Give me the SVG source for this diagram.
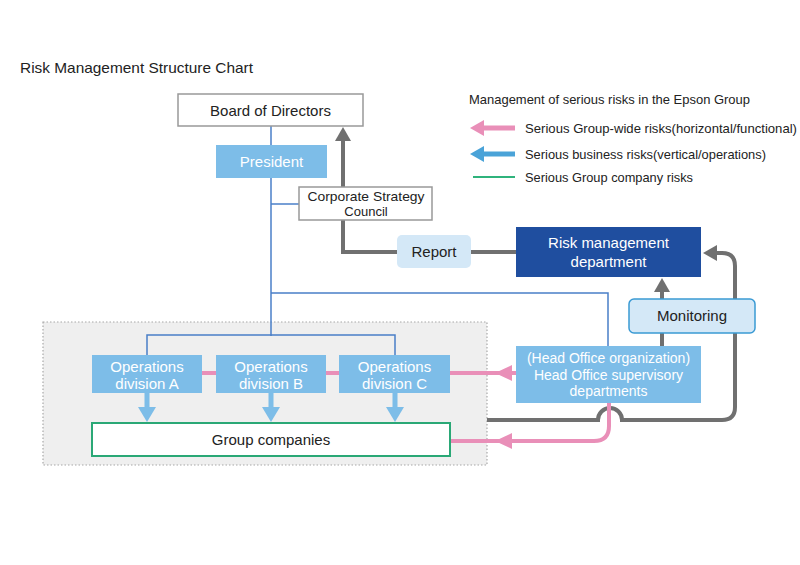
<svg xmlns="http://www.w3.org/2000/svg" width="800" height="565" viewBox="0 0 800 565">
<style>
text{font-family:"Liberation Sans",Arial,sans-serif;}
.dk{fill:#222;}
.wh{fill:#fff;}
.lb{fill:#7dbde8;}
.blue{stroke:#4a7fc8;stroke-width:1.5;fill:none;}
.gray{stroke:#707070;stroke-width:4;fill:none;}
.pink{stroke:#e98fb8;stroke-width:4;fill:none;}
.pinkh{fill:#e98fb8;}
.grayh{fill:#707070;}
.bdown{stroke:#7dbde8;stroke-width:5;fill:none;}
.bdownh{fill:#7dbde8;}
</style>
<rect width="800" height="565" fill="#fff"/>
<text x="20" y="73" font-size="15" class="dk" textLength="233" lengthAdjust="spacingAndGlyphs">Risk Management Structure Chart</text>

<g id="group-area">
<rect x="43" y="322" width="444" height="143" fill="#efefef" stroke="#a8a8a8" stroke-width="1.2" stroke-dasharray="1.5,2"/>
</g>

<g id="connectors">
<path class="blue" d="M271,126 V336"/>
<path class="blue" d="M271,204 H299"/>
<path class="blue" d="M271,293 H608 V346"/>
<path class="blue" d="M147,355 V335 H395 V355"/>
<path class="gray" d="M343,220 V252 H397"/>
<path class="gray" d="M471,252 H516"/>
<path class="gray" d="M343,187 V139"/>
<polygon class="grayh" points="343,127 351,141 335,141"/>
<path class="gray" d="M662,346 V289"/>
<polygon class="grayh" points="662,278 670,292 654,292"/>
<path class="gray" d="M487,420 H598 A12,12 0 0 1 622,420 H722 Q735,420 735,407 V266 Q735,253 722,253 H714"/>
<polygon class="grayh" points="703,253 717,245 717,261"/>
<path class="pink" d="M202,373 H216 M326,373 H339 M450,373 H516"/>
<polygon class="pinkh" points="495,373 512,365 512,381"/>
<path class="pink" d="M609,403 V426 Q609,441 594,441 H450"/>
<polygon class="pinkh" points="495,441 512,433 512,449"/>
<path class="bdown" d="M147,393 V410 M271,393 V410 M395,393 V410"/>
<polygon class="bdownh" points="147,422 138,407 156,407"/>
<polygon class="bdownh" points="271,422 262,407 280,407"/>
<polygon class="bdownh" points="395,422 386,407 404,407"/>
</g>

<g id="board">
<rect x="178" y="94" width="185" height="32" fill="#fff" stroke="#999" stroke-width="1.5"/>
<text x="270.5" y="116" font-size="15" text-anchor="middle" class="dk">Board of Directors</text>
</g>
<g id="president">
<rect x="216" y="145" width="111" height="33" class="lb"/>
<text x="271.5" y="167" font-size="15" text-anchor="middle" class="wh">President</text>
</g>
<g id="csc">
<rect x="299" y="187" width="133" height="33" fill="#fff" stroke="#999" stroke-width="1.5"/>
<text x="366" y="201" font-size="13" text-anchor="middle" class="dk" textLength="117" lengthAdjust="spacingAndGlyphs">Corporate Strategy</text>
<text x="366" y="215.5" font-size="13" text-anchor="middle" class="dk">Council</text>
</g>
<g id="report">
<rect x="397" y="235" width="74" height="33" rx="5" fill="#d4e8f7"/>
<text x="434" y="257" font-size="15" text-anchor="middle" class="dk">Report</text>
</g>
<g id="riskdept">
<rect x="516" y="227" width="185" height="50" fill="#1f4e9f"/>
<text x="608.5" y="248" font-size="15" text-anchor="middle" class="wh">Risk management</text>
<text x="608.5" y="267" font-size="15" text-anchor="middle" class="wh">department</text>
</g>
<g id="monitoring">
<rect x="629" y="299" width="126" height="34" rx="5" fill="#d4e8f7" stroke="#3a9ad4" stroke-width="1.5"/>
<text x="692" y="321" font-size="15" text-anchor="middle" class="dk">Monitoring</text>
</g>
<g id="headoffice">
<rect x="516" y="346" width="185" height="57" class="lb"/>
<text x="608.5" y="363" font-size="14" text-anchor="middle" class="wh">(Head Office organization)</text>
<text x="608.5" y="380" font-size="14" text-anchor="middle" class="wh">Head Office supervisory</text>
<text x="608.5" y="396" font-size="14" text-anchor="middle" class="wh">departments</text>
</g>
<g id="divA">
<rect x="92" y="355" width="110" height="38" class="lb"/>
<text x="147" y="372" font-size="15" text-anchor="middle" class="wh">Operations</text>
<text x="147" y="389" font-size="15" text-anchor="middle" class="wh">division A</text>
</g>
<g id="divB">
<rect x="216" y="355" width="110" height="38" class="lb"/>
<text x="271" y="372" font-size="15" text-anchor="middle" class="wh">Operations</text>
<text x="271" y="389" font-size="15" text-anchor="middle" class="wh">division B</text>
</g>
<g id="divC">
<rect x="339" y="355" width="111" height="38" class="lb"/>
<text x="394.5" y="372" font-size="15" text-anchor="middle" class="wh">Operations</text>
<text x="394.5" y="389" font-size="15" text-anchor="middle" class="wh">division C</text>
</g>
<g id="groupcos">
<rect x="92" y="423" width="358" height="33" fill="#fff" stroke="#2aa876" stroke-width="2"/>
<text x="271" y="445" font-size="15" text-anchor="middle" class="dk">Group companies</text>
</g>

<g id="legend">
<text x="469" y="104" font-size="13" class="dk" textLength="281" lengthAdjust="spacingAndGlyphs">Management of serious risks in the Epson Group</text>
<path d="M481,128 H515" stroke="#e98fb8" stroke-width="5"/>
<polygon points="470,128 484,120 484,136" fill="#e98fb8"/>
<text x="525" y="133" font-size="13" class="dk" textLength="272" lengthAdjust="spacingAndGlyphs">Serious Group-wide risks(horizontal/functional)</text>
<path d="M481,154 H515" stroke="#4aa3d8" stroke-width="5"/>
<polygon points="470,154 484,146 484,162" fill="#4aa3d8"/>
<text x="525" y="159" font-size="13" class="dk" textLength="241" lengthAdjust="spacingAndGlyphs">Serious business risks(vertical/operations)</text>
<path d="M473,177 H515" stroke="#2fb37c" stroke-width="2"/>
<text x="525" y="182" font-size="13" class="dk" textLength="168" lengthAdjust="spacingAndGlyphs">Serious Group company risks</text>
</g>
</svg>
